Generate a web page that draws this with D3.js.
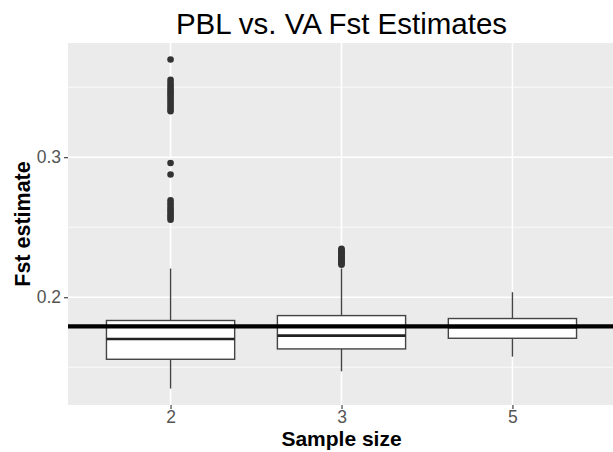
<!DOCTYPE html>
<html>
<head>
<meta charset="utf-8">
<script src="https://cdn.jsdelivr.net/npm/d3@7"></script>
<style>
  body { margin: 0; background: #fff; }
  text { font-family: "Liberation Sans", Arial, sans-serif; }
</style>
</head>
<body>
<div id="chart"></div>
<script>
// data
const sampleSizes = ["2", "3", "5"];
const lowerWhisker = [0.1348, 0.1471, 0.1576];
const q1 = [0.1557, 0.1631, 0.1707];
const medians = [0.1702, 0.1726, 0.1786];
const q3 = [0.1834, 0.1869, 0.1848];
const upperWhisker = [0.2205, 0.2205, 0.2036];
const outliers2 = [0.3698, 0.3552, 0.3531, 0.3512, 0.3494, 0.3478, 0.3462, 0.3447, 0.3431,
  0.3415, 0.3398, 0.3380, 0.3362, 0.3345, 0.3329, 0.2959, 0.2876, 0.2693, 0.2672, 0.2651,
  0.2634, 0.2618, 0.2601, 0.2586, 0.2570, 0.2554];
const outliers3 = [0.2346, 0.2338, 0.2329, 0.2321, 0.2312, 0.2303, 0.2295, 0.2287, 0.2279,
  0.2270, 0.2262, 0.2254, 0.2246, 0.2239, 0.2232];
const outliers5 = [];
const vaFst = 0.1792;
const yTicks = [0.2, 0.3];
const yMinor = [0.15, 0.25, 0.35];

const width = 613, height = 452;
const margin = {top: 43, left: 68, right: -2, bottom: 47};

const svg = d3.select("#chart").append("svg")
  .attr("width", width)
  .attr("height", height);

const pw = width - margin.left - margin.right;
const ph = height - margin.top - margin.bottom;

const groups = sampleSizes.map((s, i) => ({
  size: s,
  lo: lowerWhisker[i], q1: q1[i], med: medians[i], q3: q3[i], hi: upperWhisker[i],
  out: [outliers2, outliers3, outliers5][i]
}));

let allVals = [];
groups.forEach(g => { allVals.push(g.lo, g.hi); allVals = allVals.concat(g.out); });
let ext = d3.extent(allVals);
let pad = (ext[1] - ext[0]) * 0.05;

let x = d3.scalePoint().domain(sampleSizes).range([0, pw]).padding(0.6);
let y = d3.scaleLinear().domain([ext[0] - pad, ext[1] + pad]).range([ph, 0]);
let boxW = x.step() * 0.75;

svg.append("clipPath").attr("id", "panelclip")
  .append("rect").attr("width", pw).attr("height", ph);

let g = svg.append("g")
  .attr("transform", "translate(" + margin.left + "," + margin.top + ")");

let panel = g.append("g").attr("clip-path", "url(#panelclip)");

panel.append("rect")
  .attr("width", pw).attr("height", ph)
  .attr("fill", "#ebebeb");

// grid
panel.selectAll(".minor").data(yMinor).enter().append("line")
  .attr("x1", 0).attr("x2", pw)
  .attr("y1", d => y(d)).attr("y2", d => y(d))
  .attr("stroke", "#fff").attr("stroke-width", 0.8);

panel.selectAll(".major").data(yTicks).enter().append("line")
  .attr("x1", 0).attr("x2", pw)
  .attr("y1", d => y(d)).attr("y2", d => y(d))
  .attr("stroke", "#fff").attr("stroke-width", 1.6);

panel.selectAll(".vgrid").data(sampleSizes).enter().append("line")
  .attr("x1", d => x(d)).attr("x2", d => x(d))
  .attr("y1", 0).attr("y2", ph)
  .attr("stroke", "#fff").attr("stroke-width", 1.6);

// boxes
let box = panel.selectAll(".box").data(groups).enter().append("g").attr("class", "box");

box.append("line")
  .attr("x1", d => x(d.size)).attr("x2", d => x(d.size))
  .attr("y1", d => y(d.hi)).attr("y2", d => y(d.q3))
  .attr("stroke", "#444").attr("stroke-width", 1.4);

box.append("line")
  .attr("x1", d => x(d.size)).attr("x2", d => x(d.size))
  .attr("y1", d => y(d.q1)).attr("y2", d => y(d.lo))
  .attr("stroke", "#444").attr("stroke-width", 1.4);

box.append("rect")
  .attr("x", d => x(d.size) - boxW / 2)
  .attr("width", boxW)
  .attr("y", d => y(d.q3))
  .attr("height", d => y(d.q1) - y(d.q3))
  .attr("fill", "#fff").attr("stroke", "#444").attr("stroke-width", 1.4);

box.append("line")
  .attr("x1", d => x(d.size) - boxW / 2).attr("x2", d => x(d.size) + boxW / 2)
  .attr("y1", d => y(d.med)).attr("y2", d => y(d.med))
  .attr("stroke", "#222").attr("stroke-width", 2.6);

box.selectAll("circle").data(d => d.out.map(v => ({size: d.size, v: v}))).enter()
  .append("circle")
  .attr("cx", d => x(d.size)).attr("cy", d => y(d.v))
  .attr("r", 3.3).attr("fill", "#333");

// reference line
panel.append("line")
  .attr("x1", 0).attr("x2", pw)
  .attr("y1", y(vaFst)).attr("y2", y(vaFst))
  .attr("stroke", "#000").attr("stroke-width", 4.2);

// axes
let yAxis = g.append("g").call(d3.axisLeft(y).tickValues(yTicks).tickSize(4).tickPadding(3).tickFormat(d3.format(".1f")));
let xAxis = g.append("g").attr("transform", "translate(0," + ph + ")")
  .call(d3.axisBottom(x).tickSize(4).tickPadding(2));

[xAxis, yAxis].forEach(a => {
  a.select(".domain").remove();
  a.selectAll(".tick line").attr("stroke", "#333").attr("stroke-width", 1.1);
  a.selectAll(".tick text").attr("fill", "#555").style("font-size", "17.5px")
    .style("font-family", "'Liberation Sans', Arial, sans-serif");
});

let cx = margin.left + pw / 2;

svg.append("text")
  .attr("x", cx).attr("y", 34)
  .attr("text-anchor", "middle")
  .style("font-size", "29.5px")
  .text("PBL vs. VA Fst Estimates");

svg.append("text")
  .attr("x", cx).attr("y", 446)
  .attr("text-anchor", "middle")
  .style("font-size", "21px").style("font-weight", "bold")
  .text("Sample size");

svg.append("text")
  .attr("transform", "translate(30," + (margin.top + ph / 2) + ") rotate(-90)")
  .attr("text-anchor", "middle")
  .style("font-size", "21.5px").style("font-weight", "bold")
  .text("Fst estimate");
</script>
</body>
</html>
